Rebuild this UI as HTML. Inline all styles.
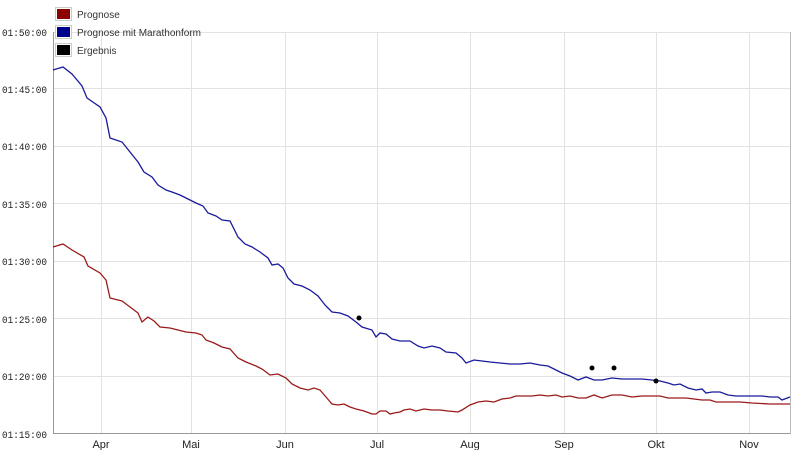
<!DOCTYPE html>
<html><head><meta charset="utf-8"><style>
body{margin:0;background:#fff;width:800px;height:450px;overflow:hidden}
svg{display:block;font-family:"Liberation Sans",sans-serif}
.yl{font-family:"Liberation Mono",monospace;font-size:10.5px;fill:#222}
.xl{font-size:11px;fill:#222}
.g{stroke:#e2e2e2;stroke-width:1}
</style></head><body>
<svg width="800" height="450" viewBox="0 0 800 450">
<g class="g">
<line x1="54" y1="32.5" x2="790" y2="32.5"/><line x1="54" y1="88.5" x2="790" y2="88.5"/>
<line x1="54" y1="146.5" x2="790" y2="146.5"/><line x1="54" y1="203.5" x2="790" y2="203.5"/>
<line x1="54" y1="261.5" x2="790" y2="261.5"/><line x1="54" y1="318.5" x2="790" y2="318.5"/>
<line x1="54" y1="376.5" x2="790" y2="376.5"/>
<line x1="101.5" y1="32" x2="101.5" y2="433"/><line x1="191.5" y1="32" x2="191.5" y2="433"/>
<line x1="285.5" y1="32" x2="285.5" y2="433"/><line x1="377.5" y1="32" x2="377.5" y2="433"/>
<line x1="470.5" y1="32" x2="470.5" y2="433"/><line x1="564.5" y1="32" x2="564.5" y2="433"/>
<line x1="656.5" y1="32" x2="656.5" y2="433"/><line x1="749.5" y1="32" x2="749.5" y2="433"/>
</g>
<line x1="53.5" y1="32" x2="53.5" y2="434" stroke="#999"/>
<line x1="53" y1="433.5" x2="790" y2="433.5" stroke="#999"/>
<line x1="790.5" y1="32" x2="790.5" y2="434" stroke="#bbb"/>
<g class="yl">
<text x="2" y="36" textLength="45" lengthAdjust="spacingAndGlyphs">01:50:00</text>
<text x="2" y="93" textLength="45" lengthAdjust="spacingAndGlyphs">01:45:00</text>
<text x="2" y="150" textLength="45" lengthAdjust="spacingAndGlyphs">01:40:00</text>
<text x="2" y="208" textLength="45" lengthAdjust="spacingAndGlyphs">01:35:00</text>
<text x="2" y="265" textLength="45" lengthAdjust="spacingAndGlyphs">01:30:00</text>
<text x="2" y="323" textLength="45" lengthAdjust="spacingAndGlyphs">01:25:00</text>
<text x="2" y="380" textLength="45" lengthAdjust="spacingAndGlyphs">01:20:00</text>
<text x="2" y="438" textLength="45" lengthAdjust="spacingAndGlyphs">01:15:00</text>
</g>
<g class="xl" text-anchor="middle">
<text x="101" y="448">Apr</text><text x="191" y="448">Mai</text><text x="285" y="448">Jun</text>
<text x="377" y="448">Jul</text><text x="470" y="448">Aug</text><text x="564" y="448">Sep</text>
<text x="656" y="448">Okt</text><text x="749" y="448">Nov</text>
</g>
<polyline fill="none" stroke="#1a1a9a" stroke-width="1.3" points="53,70 63,67 72,74 82,86 87,98 100,107 106,118 110,138 122,142 130,152 138,162 144,172 152,177 158,185 166,190 172,192 180,195 188,199 196,203 203,206 208,213 216,216 222,220 230,221 238,237 245,244 252,247 260,252 268,258 272,265 278,264 283,268 288,278 294,284 302,286 310,290 318,296 325,305 332,312 340,313 348,316 356,322 362,327 372,330 376,337 380,333 386,334 392,339 400,341 410,341 418,346 424,348 432,346 440,348 446,352 456,353 462,358 466,363 474,360 482,361 490,362 500,363 510,364 520,364 530,363 540,365 548,366 556,370 562,373 570,376 578,380 586,377 594,380 602,380 612,378 622,379 632,379 642,379 652,380 660,381 668,383 674,385 680,384 688,388 696,390 702,389 706,393 712,392 720,392 728,395 736,396 744,396 752,396 762,396 770,397 778,397 782,400 790,397"/>
<polyline fill="none" stroke="#9a1a1a" stroke-width="1.3" points="53,247 63,244 72,250 84,257 88,266 100,273 106,280 110,298 122,301 130,307 138,313 142,322 148,317 154,321 160,327 170,328 178,330 186,332 196,333 202,335 206,340 214,343 222,347 230,349 238,358 246,362 256,366 262,369 270,375 278,374 286,378 292,384 300,388 308,390 314,388 320,390 326,397 332,404 338,405 344,404 350,407 356,409 364,411 372,414 376,414 380,411 386,411 390,414 394,413 400,412 404,410 410,409 416,411 424,409 432,410 440,410 448,411 458,412 462,410 470,405 478,402 486,401 494,402 502,399 510,398 516,396 524,396 532,396 540,395 548,396 556,395 562,397 570,396 578,398 586,398 594,395 602,398 612,395 622,395 632,397 642,396 652,396 660,396 668,398 676,398 686,398 694,399 702,400 710,400 716,402 728,402 740,402 752,403 770,404 790,404"/>
<g fill="#000"><circle cx="359" cy="318" r="2.5"/><circle cx="592" cy="368" r="2.5"/><circle cx="614" cy="368" r="2.5"/><circle cx="656" cy="381" r="2.5"/></g>
<g font-size="10" fill="#333">
<rect x="55.5" y="7.5" width="16" height="13" fill="#fff" stroke="#ccc"/><rect x="57" y="9" width="13" height="10" fill="#8b0000"/>
<text x="77" y="18">Prognose</text>
<rect x="55.5" y="25.5" width="16" height="13" fill="#fff" stroke="#ccc"/><rect x="57" y="27" width="13" height="10" fill="#00008b"/>
<text x="77" y="36">Prognose mit Marathonform</text>
<rect x="55.5" y="43.5" width="16" height="13" fill="#fff" stroke="#ccc"/><rect x="57" y="45" width="13" height="10" fill="#000"/>
<text x="77" y="54">Ergebnis</text>
</g>
</svg>
</body></html>
